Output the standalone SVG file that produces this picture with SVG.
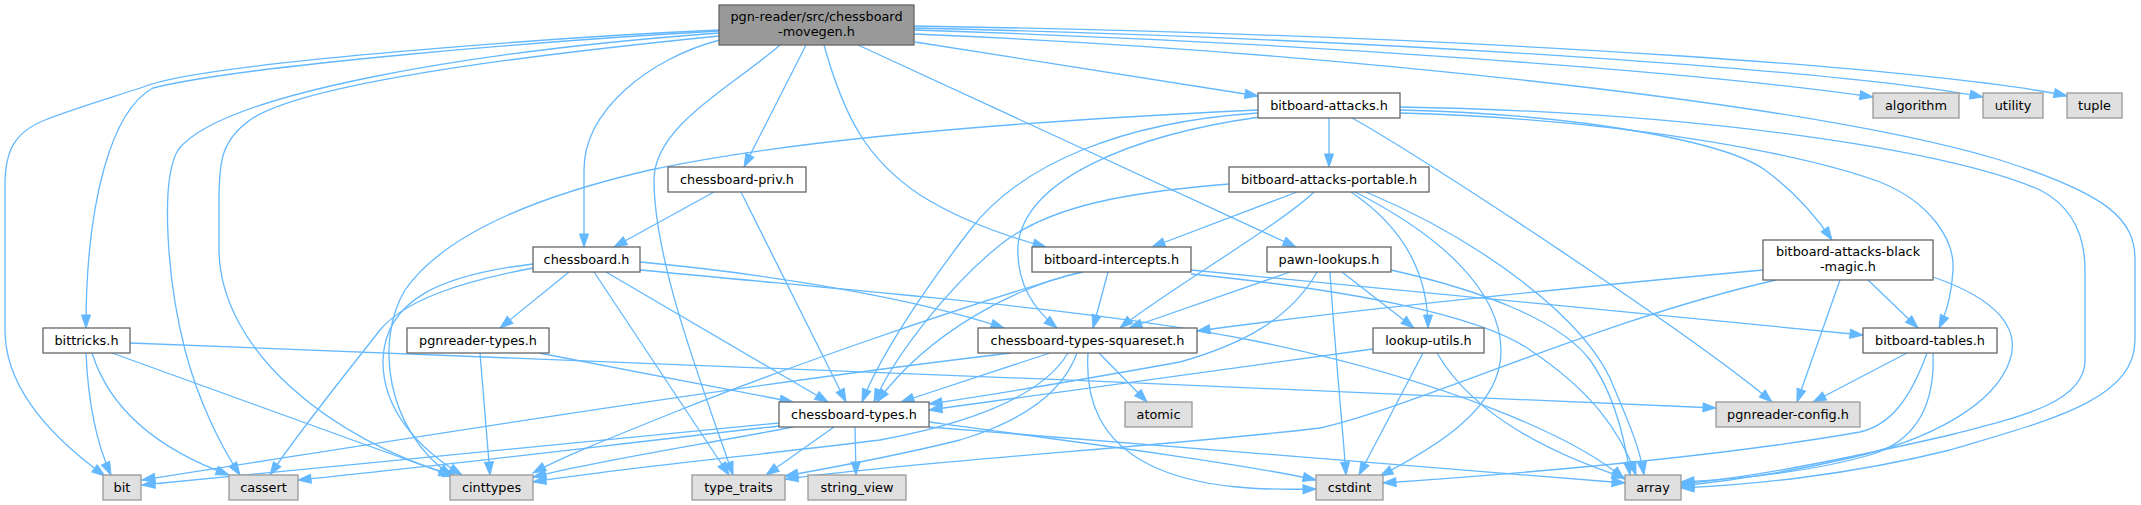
<svg xmlns="http://www.w3.org/2000/svg" width="2141" height="505" viewBox="0 0 2141 505">
<style>
.n rect{fill:#ffffff;stroke:#666666;stroke-width:1.3}
.g rect{fill:#e0e0e0;stroke:#999999;stroke-width:1.3}
.r rect{fill:#999999;stroke:#666666;stroke-width:1.3}
text{font-family:"DejaVu Sans","Liberation Sans",sans-serif;font-size:12.85px;text-anchor:middle;fill:#000000}
#edges path{fill:none;stroke:#63b8ff;stroke-width:1.3;marker-end:url(#a)}
</style>
<defs>
<marker id="a" markerUnits="userSpaceOnUse" markerWidth="15" markerHeight="11" refX="13" refY="5" orient="auto" overflow="visible">
<path d="M0,0.5 L13,5 L0,9.5 z" fill="#63b8ff" stroke="#63b8ff" stroke-width="1"/>
</marker>
</defs>
<rect width="2141" height="505" fill="#ffffff"/>
<g id="edges">
<path d="M719,30 C560,37 220,62 152,84 C120,95 75,108 45,120 C15,132 5,150 5,185 L5,330 C5,390 55,440 105,476"/>
<path d="M719,31 C540,41 240,66 153,88 C112,110 86,200 86,328"/>
<path d="M719,33 C460,52 220,95 178,150 C160,180 167,280 185,350 C198,400 220,445 240,475"/>
<path d="M719,36 C500,58 300,85 250,120 C222,140 219,160 219,200 L219,250 C220,350 330,440 456,476"/>
<path d="M720,40 C650,58 584,110 584,170 L584,247"/>
<path d="M806,45 L744,167"/>
<path d="M780,45 C735,85 654,125 654,180 C654,260 700,380 733,475"/>
<path d="M824,45 C845,120 868,160 920,195 C960,220 1005,236 1046,247"/>
<path d="M858,45 L1296,247"/>
<path d="M915,42 L1258,96"/>
<path d="M914,30 C1300,42 1700,72 1873,97"/>
<path d="M914,28 C1420,40 1850,72 1983,97"/>
<path d="M914,26 C1520,36 1960,72 2067,96"/>
<path d="M914,34 C1300,50 1800,100 2000,160 C2110,195 2135,220 2135,260 L2135,340 C2135,400 2050,420 1950,450 C1850,475 1750,485 1681,488"/>
<path d="M1258,110 C1000,122 780,142 650,170 C520,200 440,240 405,290 C375,340 385,430 452,476"/>
<path d="M1258,113 C1120,122 1020,165 970,230 C920,295 878,360 862,402"/>
<path d="M1260,117 C1130,135 1025,180 1018,245 C1016,285 1035,310 1057,328"/>
<path d="M1329,118 L1329,167"/>
<path d="M1400,110 C1600,115 1730,145 1765,170 C1795,192 1815,215 1832,240"/>
<path d="M1400,113 C1650,120 1820,160 1880,182 C1930,202 1955,240 1953,270 C1951,300 1945,315 1939,328"/>
<path d="M1352,118 C1420,155 1700,340 1772,402"/>
<path d="M1400,107 C1700,112 1950,150 2040,190 C2075,208 2085,240 2085,270 L2085,360 C2085,400 2030,415 1950,435 C1850,458 1750,478 1681,484"/>
<path d="M714,192 L614,247"/>
<path d="M741,192 L846,402"/>
<path d="M1229,184 C1130,192 1050,205 1000,245 C950,285 895,355 874,402"/>
<path d="M1297,192 L1152,247"/>
<path d="M1314,192 C1280,225 1160,295 1120,328"/>
<path d="M1351,192 C1400,225 1428,270 1428,328"/>
<path d="M1355,192 C1440,235 1500,290 1501,350 C1502,410 1430,450 1380,476"/>
<path d="M1366,192 C1480,240 1590,320 1615,390 C1632,430 1640,450 1644,475"/>
<path d="M1083,272 C1020,285 930,330 877,402"/>
<path d="M1080,272 C950,310 780,370 680,410 C610,438 560,458 533,473"/>
<path d="M1108,272 L1093,328"/>
<path d="M1191,270 L1863,335"/>
<path d="M1191,274 C1350,290 1480,315 1530,350 C1590,390 1620,430 1636,475"/>
<path d="M1290,272 L1129,328"/>
<path d="M1317,272 C1290,320 1240,345 1180,362 C1080,380 990,395 929,404"/>
<path d="M1342,272 L1414,328"/>
<path d="M1330,272 C1335,350 1342,420 1346,475"/>
<path d="M1391,270 C1480,290 1560,320 1590,360 C1615,395 1625,440 1630,475"/>
<path d="M569,272 L500,328"/>
<path d="M533,268 C460,282 405,300 380,330 C345,375 300,430 270,475"/>
<path d="M533,264 C440,275 385,300 383,360 C382,410 420,450 462,475"/>
<path d="M594,272 L729,475"/>
<path d="M606,272 L828,402"/>
<path d="M640,262 C780,275 920,300 1004,328"/>
<path d="M640,270 C900,295 1100,310 1250,340 C1450,380 1580,440 1624,479"/>
<path d="M86,353 C88,400 95,440 111,475"/>
<path d="M92,353 C110,410 160,450 229,475"/>
<path d="M112,353 L452,476"/>
<path d="M130,343 C600,360 1200,385 1716,408"/>
<path d="M480,353 L490,475"/>
<path d="M539,353 L793,402"/>
<path d="M1050,353 L901,402"/>
<path d="M1099,353 L1147,402"/>
<path d="M1088,353 C1085,400 1100,440 1150,465 C1200,490 1270,490 1316,489"/>
<path d="M1077,353 C1060,400 1010,425 960,440 C900,455 830,468 785,476"/>
<path d="M1011,353 C700,390 400,440 142,480"/>
<path d="M1068,353 C1040,400 960,425 880,440 C760,455 620,468 533,482"/>
<path d="M779,423 C600,440 350,465 142,485"/>
<path d="M780,426 C650,440 450,465 298,480"/>
<path d="M793,427 C700,445 600,460 533,477"/>
<path d="M834,427 L766,475"/>
<path d="M855,427 L856,475"/>
<path d="M929,422 C1100,445 1250,465 1316,480"/>
<path d="M929,427 C1200,450 1450,470 1625,483"/>
<path d="M1373,349 L929,410"/>
<path d="M1423,353 L1359,475"/>
<path d="M1437,353 C1470,410 1540,450 1625,478"/>
<path d="M1907,353 L1813,402"/>
<path d="M1927,353 C1910,400 1890,425 1860,432 C1700,460 1500,475 1383,483"/>
<path d="M1933,353 C1935,400 1920,440 1870,455 C1800,475 1720,480 1681,482"/>
<path d="M1763,270 C1600,285 1350,310 1197,331"/>
<path d="M1776,280 C1600,320 1420,405 1320,428 C1150,448 950,458 785,479"/>
<path d="M1840,280 L1797,402"/>
<path d="M1868,280 L1918,328"/>
<path d="M1933,277 C2000,300 2020,330 2010,360 C1995,405 1930,440 1850,458 C1780,474 1720,482 1681,486"/>
</g>
<g id="node-root" class="r"><rect x="719" y="5" width="195" height="40"/><text x="816.5" y="20.7">pgn-reader/src/chessboard</text><text x="816.5" y="35.7">-movegen.h</text></g>
<g id="node-bitboard-attacks" class="n"><rect x="1258" y="93" width="142" height="25"/><text x="1329" y="110">bitboard-attacks.h</text></g>
<g id="node-chessboard-priv" class="n"><rect x="668" y="167" width="138" height="25"/><text x="737" y="184">chessboard-priv.h</text></g>
<g id="node-bitboard-attacks-portable" class="n"><rect x="1229" y="167" width="200" height="25"/><text x="1329" y="184">bitboard-attacks-portable.h</text></g>
<g id="node-chessboard" class="n"><rect x="533" y="247" width="107" height="25"/><text x="586.5" y="264">chessboard.h</text></g>
<g id="node-bitboard-intercepts" class="n"><rect x="1032" y="247" width="159" height="25"/><text x="1111.5" y="264">bitboard-intercepts.h</text></g>
<g id="node-pawn-lookups" class="n"><rect x="1267" y="247" width="124" height="25"/><text x="1329" y="264">pawn-lookups.h</text></g>
<g id="node-bitboard-attacks-black-magic" class="n"><rect x="1763" y="240" width="170" height="40"/><text x="1848" y="255.7">bitboard-attacks-black</text><text x="1848" y="270.7">-magic.h</text></g>
<g id="node-bittricks" class="n"><rect x="43" y="328" width="87" height="25"/><text x="86.5" y="345">bittricks.h</text></g>
<g id="node-pgnreader-types" class="n"><rect x="407" y="328" width="142" height="25"/><text x="478" y="345">pgnreader-types.h</text></g>
<g id="node-chessboard-types-squareset" class="n"><rect x="978" y="328" width="219" height="25"/><text x="1087.5" y="345">chessboard-types-squareset.h</text></g>
<g id="node-lookup-utils" class="n"><rect x="1373" y="328" width="111" height="25"/><text x="1428.5" y="345">lookup-utils.h</text></g>
<g id="node-bitboard-tables" class="n"><rect x="1863" y="328" width="134" height="25"/><text x="1930" y="345">bitboard-tables.h</text></g>
<g id="node-chessboard-types" class="n"><rect x="779" y="402" width="150" height="25"/><text x="854" y="419">chessboard-types.h</text></g>
<g id="node-atomic" class="g"><rect x="1125" y="402" width="67" height="25"/><text x="1158.5" y="419">atomic</text></g>
<g id="node-pgnreader-config" class="g"><rect x="1716" y="402" width="144" height="25"/><text x="1788" y="419">pgnreader-config.h</text></g>
<g id="node-bit" class="g"><rect x="103" y="475" width="38" height="25"/><text x="122" y="492">bit</text></g>
<g id="node-cassert" class="g"><rect x="229" y="475" width="69" height="25"/><text x="263.5" y="492">cassert</text></g>
<g id="node-cinttypes" class="g"><rect x="450" y="475" width="83" height="25"/><text x="491.5" y="492">cinttypes</text></g>
<g id="node-type_traits" class="g"><rect x="692" y="475" width="93" height="25"/><text x="738.5" y="492">type_traits</text></g>
<g id="node-string_view" class="g"><rect x="808" y="475" width="98" height="25"/><text x="857" y="492">string_view</text></g>
<g id="node-cstdint" class="g"><rect x="1316" y="475" width="67" height="25"/><text x="1349.5" y="492">cstdint</text></g>
<g id="node-array" class="g"><rect x="1625" y="475" width="56" height="25"/><text x="1653" y="492">array</text></g>
<g id="node-algorithm" class="g"><rect x="1873" y="93" width="86" height="25"/><text x="1916" y="110">algorithm</text></g>
<g id="node-utility" class="g"><rect x="1983" y="93" width="60" height="25"/><text x="2013" y="110">utility</text></g>
<g id="node-tuple" class="g"><rect x="2067" y="93" width="55" height="25"/><text x="2094.5" y="110">tuple</text></g>
</svg>
